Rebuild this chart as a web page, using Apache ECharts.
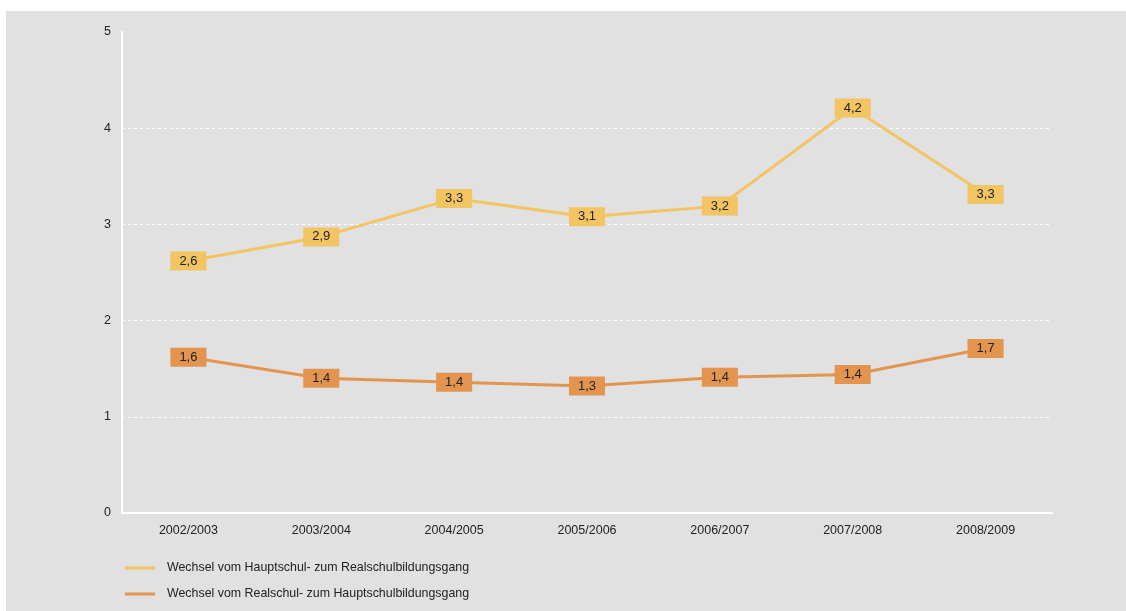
<!DOCTYPE html>
<html><head><meta charset="utf-8">
<script src="https://cdn.jsdelivr.net/npm/echarts@6/dist/echarts.min.js"></script>
<style>html,body{margin:0;padding:0;background:#fff}#c{position:absolute;left:6px;top:11px;width:1120px;height:600px;background:#e1e1e1}</style>
</head><body><div id="c"></div>
<script>
const categories = ['2002/2003','2003/2004','2004/2005','2005/2006','2006/2007','2007/2008','2008/2009'];
const seriesNames = ['Wechsel vom Hauptschul- zum Realschulbildungsgang','Wechsel vom Realschul- zum Hauptschulbildungsgang'];
const hauptZuReal = [2.62, 2.87, 3.27, 3.08, 3.19, 4.21, 3.31];
const realZuHaupt = [1.62, 1.40, 1.36, 1.32, 1.41, 1.44, 1.71];
const yTicks = [0, 1, 2, 3, 4, 5];
const colors = ['#f2c462', '#e3954f'];

const chart = echarts.init(document.getElementById('c'), null, {renderer:'canvas'});
const font = 'Liberation Sans, Arial, sans-serif';
function mk(name, data, color){
  return {
    name, type:'line', data, symbol:'rect', symbolSize:1,
    lineStyle:{color, width:3}, itemStyle:{color},
    label:{show:true, position:'inside', formatter:p=>p.value.toFixed(1).replace('.',','),
      backgroundColor:color, color:'#222', fontFamily:font, fontSize:13,
      padding:[3,9,2,9], lineHeight:14},
    emphasis:{disabled:true}, animation:false, z:3
  };
}
chart.setOption({
  animation:false,
  textStyle:{fontFamily:font},
  grid:{left:116, right:74, top:21, bottom:98, containLabel:false},
  xAxis:{type:'category', data:categories, boundaryGap:true,
    axisLine:{lineStyle:{color:'#ffffff', width:2}}, axisTick:{show:false},
    axisLabel:{color:'#222', fontSize:12.5, margin:11, fontFamily:font}},
  yAxis:{type:'value', min:yTicks[0], max:yTicks[yTicks.length-1], interval:1,
    axisLine:{show:true, lineStyle:{color:'#ffffff', width:2}}, axisTick:{show:false},
    axisLabel:{color:'#222', fontSize:12.5, margin:11, fontFamily:font},
    splitLine:{show:true, showMaxLine:false, showMinLine:false, lineStyle:{color:'#ffffff', type:[3,3], width:1}}},
  legend:{orient:'vertical', left:114, top:546, itemWidth:30, itemHeight:3, itemGap:14,
    icon:'rect', textStyle:{color:'#222', fontSize:12.4, fontFamily:font, padding:[0,0,0,7]},
    data:seriesNames},
  series:[mk(seriesNames[0], hauptZuReal, colors[0]), mk(seriesNames[1], realZuHaupt, colors[1])]
});
</script></body></html>
